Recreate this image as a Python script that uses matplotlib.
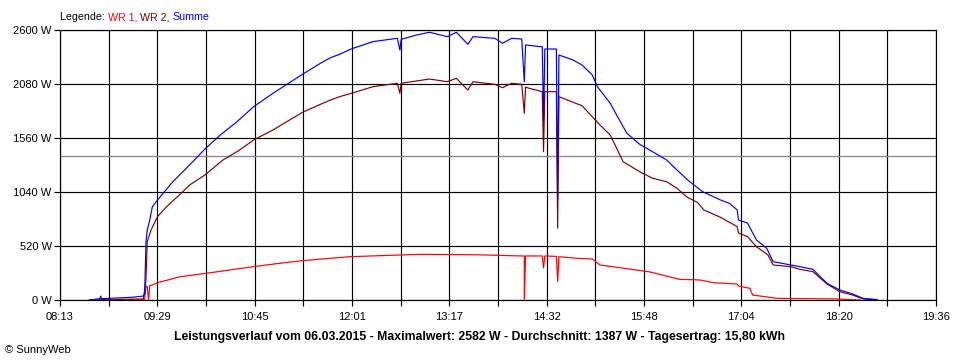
import matplotlib.pyplot as plt
import numpy as np

# Summe (blue)
sum_time = ["08:36", "08:44", "08:45", "08:45", "09:09", "09:18", "09:19", "09:20", "09:21", "09:23",
            "09:25", "09:29", "09:41", "09:54", "10:06", "10:18", "10:31", "10:44", "10:59", "11:22",
            "11:36", "11:44", "11:51", "12:00", "12:17", "12:36", "12:38", "12:39", "12:51", "13:01",
            "13:15", "13:22", "13:31", "13:35", "13:52", "13:58", "14:05", "14:13", "14:15", "14:16",
            "14:27", "14:29", "14:30", "14:31", "14:40", "14:41", "14:42", "14:53", "15:00", "15:08",
            "15:12", "15:22", "15:27", "15:35", "15:45", "15:55", "16:06", "16:14", "16:23", "16:34",
            "16:48", "16:55", "17:01", "17:02", "17:09", "17:16", "17:24", "17:29", "17:43", "17:50",
            "18:00", "18:11", "18:21", "18:31", "18:39", "18:50"]
sum_power = [0, 13, 38, 13, 26, 38, 60, 549, 674, 770,
             898, 963, 1139, 1300, 1454, 1589, 1717, 1862, 1990, 2173,
             2279, 2334, 2366, 2417, 2488, 2520, 2407, 2510, 2552, 2578,
             2536, 2578, 2462, 2536, 2520, 2472, 2520, 2513, 2102, 2456,
             2440, 2440, 1717, 2417, 2417, 963, 2359, 2311, 2263, 2167,
             2054, 1894, 1781, 1605, 1499, 1428, 1348, 1252, 1149, 1043,
             963, 930, 867, 770, 741, 578, 498, 369, 337, 321,
             295, 161, 96, 58, 16, 5]

# WR 2 (maroon)
wr2_time = ["08:36", "09:18", "09:20", "09:21", "09:24", "09:29", "09:36", "09:46", "09:54", "10:06",
            "10:20", "10:33", "10:44", "10:59", "11:22", "11:36", "11:44", "11:51", "12:00", "12:17",
            "12:36", "12:38", "12:39", "13:01", "13:15", "13:22", "13:31", "13:35", "13:52", "13:58",
            "14:05", "14:13", "14:15", "14:16", "14:19", "14:29", "14:30", "14:31", "14:40", "14:41",
            "14:42", "14:53", "15:00", "15:08", "15:14", "15:22", "15:27", "15:32", "15:45", "15:55",
            "16:06", "16:14", "16:22", "16:30", "16:35", "16:48", "17:01", "17:02", "17:09", "17:16",
            "17:25", "17:29", "17:43", "17:50", "18:00", "18:11", "18:21", "18:31", "18:39", "18:50"]
wr2_power = [0, 10, 193, 561, 674, 802, 898, 1011, 1107, 1204,
             1348, 1444, 1541, 1637, 1807, 1884, 1926, 1958, 1990, 2054,
             2087, 1990, 2087, 2128, 2102, 2135, 2022, 2102, 2077, 2044,
             2087, 2077, 1798, 2050, 2038, 2006, 1428, 2006, 2006, 693,
             1958, 1904, 1871, 1765, 1685, 1589, 1461, 1332, 1235, 1172,
             1139, 1076, 990, 940, 867, 796, 706, 645, 610, 513,
             433, 337, 321, 295, 273, 154, 80, 48, 10, 0]

# WR 1 (red)
wr1_time = ["08:36", "09:19", "09:20", "09:21", "09:22", "09:23", "09:25", "09:29", "09:47", "10:07",
            "10:43", "11:04", "11:22", "11:59", "12:37", "12:56", "13:14", "13:40", "14:13", "14:15",
            "14:15", "14:16", "14:29", "14:30", "14:31", "14:40", "14:41", "14:42", "14:58", "15:08",
            "15:14", "15:30", "15:53", "16:16", "16:32", "16:42", "17:01", "17:02", "17:11", "17:13",
            "17:32", "18:18", "18:37"]
wr1_power = [0, 5, 128, 135, 0, 140, 144, 167, 225, 257,
             320, 353, 379, 417, 433, 440, 438, 435, 424, 424,
             0, 424, 424, 308, 424, 420, 176, 417, 400, 395,
             337, 310, 270, 199, 193, 167, 154, 135, 112, 48,
             16, 10, 0]

x_labels = ["08:13", "09:29", "10:45", "12:01", "13:17", "14:32", "15:48", "17:04", "18:20", "19:36"]
y_ticks = [0, 520, 1040, 1560, 2080, 2600]
max_w = 2582
avg_w = 1387
day_kwh = "15,80"


def to_min(s):
    h, m = s.split(":")
    return int(h) * 60 + int(m)


fig = plt.figure(figsize=(9.6, 3.6), dpi=100)
fig.set_facecolor("white")
ax = fig.add_axes([60 / 960, 60 / 360, 876 / 960, 270 / 360])

t0, t1 = to_min(x_labels[0]), to_min(x_labels[-1])
ax.set_xlim(t0, t1)
ax.set_ylim(0, 2600)

grid_lw = 0.85
ax.axhline(avg_w, color="#8c8c8c", lw=1.0, zorder=1)

ax.plot([to_min(t) for t in wr1_time], wr1_power, color="#ff0000", lw=0.85, zorder=3)
ax.plot([to_min(t) for t in wr2_time], wr2_power, color="#800000", lw=0.85, zorder=4)
ax.plot([to_min(t) for t in sum_time], sum_power, color="#0000ff", lw=0.85, zorder=5)

major = np.linspace(t0, t1, len(x_labels))
minor = np.linspace(t0, t1, 2 * len(x_labels) - 1)[1::2]
ax.set_xticks(major)
ax.set_xticklabels(x_labels)
ax.set_xticks(minor, minor=True)
ax.set_yticks(y_ticks)
ax.set_yticklabels([f"{v} W" for v in y_ticks])

ax.grid(which="both", axis="x", color="black", lw=grid_lw, zorder=2)
ax.grid(which="major", axis="y", color="black", lw=grid_lw, zorder=2)
ax.set_axisbelow(True)
for sp in ax.spines.values():
    sp.set_color("black")
    sp.set_linewidth(grid_lw)

ax.tick_params(axis="both", which="both", length=4, width=grid_lw, direction="out",
               labelsize=8, colors="black")
ax.tick_params(axis="x", pad=5)
ax.tick_params(axis="y", pad=2)
for lbl in ax.get_xticklabels() + ax.get_yticklabels():
    lbl.set_fontfamily("Liberation Sans")

# legend line at top: coloured words one after another
fig.canvas.draw()
renderer = fig.canvas.get_renderer()
x = 60
for word, col in [("Legende: ", "black"), ("WR 1, ", "#ff0000"), ("WR 2, ", "#800000"), ("Summe", "#0000ff")]:
    t = fig.text(x / 960, 1 - 17 / 360, word, color=col, fontsize=7.7, family="Liberation Sans",
                 va="center", ha="left")
    x += t.get_window_extent(renderer).width

fig.text(480 / 960, 1 - 337 / 360,
         f"Leistungsverlauf vom 06.03.2015 - Maximalwert: {max_w} W - Durchschnitt: {avg_w} W - "
         f"Tagesertrag: {day_kwh} kWh",
         fontsize=8.8, fontweight="bold", family="Liberation Sans", ha="center", va="center")
fig.text(5 / 960, 1 - 350 / 360, "\u00a9 SunnyWeb", fontsize=8, family="Liberation Sans",
         ha="left", va="center")

fig.savefig("out.png", dpi=100)
